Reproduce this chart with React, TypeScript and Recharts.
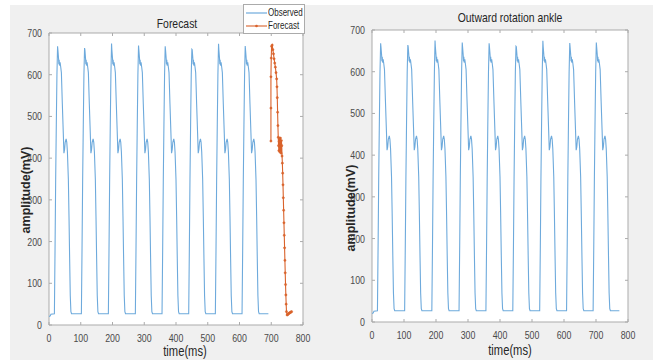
import React from 'react';
import { LineChart, Line, XAxis, YAxis, ReferenceArea } from 'recharts';

// onset (ms) of every burst and its peak amplitude (mV)
const cycleOnsets = [17, 102, 187, 272, 356, 440, 524, 608, 691];
const cyclePeaks = [668, 664, 675, 670, 668, 661, 674, 669, 670];

// shape of one burst: offset from onset (ms) -> amplitude (mV); index 5 is the peak
const burstOffsets = [0, 2, 4, 6, 8, 10, 11, 13, 14, 15, 16, 18, 20, 22, 23, 25, 28, 30, 32, 34, 37, 39, 41, 44, 46, 48, 50, 52, 54];
const burstValues = [27, 180, 348, 480, 600, 670, 660, 640, 625, 636, 622, 630, 618, 605, 580, 530, 460, 412, 420, 438, 446, 438, 415, 348, 260, 160, 70, 32, 27];
const PEAK_INDEX = 5;

// start and end of the recording
const leadTime = [0, 4, 6];
const leadValues = [20, 22, 26];
const tailTime = [773];
const tailValues = [27];

// forecast trace (orange, with markers)
const forecastTime = [699, 699, 699, 700, 701, 703, 705, 707, 709, 711, 713, 715, 717, 718, 719, 720, 721, 722, 723, 724, 725, 726, 727, 728, 729, 730, 731, 732, 733, 734, 735, 736, 737, 738, 739, 740, 741, 742, 743, 744, 745, 746, 747, 748, 750, 752, 754, 756, 758, 760, 762, 764];
const forecastValues = [441, 520, 595, 640, 668, 671, 660, 650, 638, 628, 618, 605, 590, 571, 545, 510, 478, 450, 430, 418, 440, 448, 415, 436, 448, 428, 412, 442, 430, 405, 388, 364, 336, 305, 275, 245, 215, 185, 155, 125, 97, 72, 50, 32, 24, 25, 27, 28, 29, 30, 31, 32];

const xTicks = [0, 100, 200, 300, 400, 500, 600, 700, 800];
const yTicks = [0, 100, 200, 300, 400, 500, 600, 700];
const LEFT_CUTOFF = 691;

type Pt = { t: number; v: number };

const observed: Pt[] = [];
leadTime.forEach((t, i) => observed.push({ t, v: leadValues[i] }));
cycleOnsets.forEach((onset, c) => {
  burstOffsets.forEach((off, i) => {
    observed.push({ t: onset + off, v: i === PEAK_INDEX ? cyclePeaks[c] : burstValues[i] });
  });
});
tailTime.forEach((t, i) => observed.push({ t, v: tailValues[i] }));

const observedLeft = observed.filter((p) => p.t <= LEFT_CUTOFF);
const forecast: Pt[] = forecastTime.map((t, i) => ({ t, v: forecastValues[i] }));

const BLUE = '#6eaadc';
const ORANGE = '#d9622b';
const BORDER = '#ababab';
const TICK_TEXT = '#4a4a4a';
const SANS = "'Liberation Sans', Arial, sans-serif";
const SQUEEZE = 0.8; // matlab export uses a narrow face
const X_MARGIN = 6;
const Y_MARGIN = 7;

const makeXTick = (plotTop: number) => (props: any) => {
  const { x, y, payload } = props;
  const axisY = y - X_MARGIN;
  return (
    <g>
      <line x1={x} x2={x} y1={axisY} y2={axisY - 3} stroke={BORDER} />
      <line x1={x} x2={x} y1={plotTop} y2={plotTop + 3} stroke={BORDER} />
      <text
        transform={`translate(${x} ${axisY + 17}) scale(${SQUEEZE} 1)`}
        textAnchor="middle"
        fontSize={11}
        fill={TICK_TEXT}
        fontFamily={SANS}
      >
        {payload.value}
      </text>
    </g>
  );
};

const makeYTick = (plotRight: number) => (props: any) => {
  const { x, y, payload } = props;
  const axisX = x + Y_MARGIN;
  return (
    <g>
      <line x1={axisX} x2={axisX + 3} y1={y} y2={y} stroke={BORDER} />
      <line x1={plotRight - 3} x2={plotRight} y1={y} y2={y} stroke={BORDER} />
      <text
        transform={`translate(${x} ${y + 4}) scale(${SQUEEZE} 1)`}
        textAnchor="end"
        fontSize={11}
        fill={TICK_TEXT}
        fontFamily={SANS}
      >
        {payload.value}
      </text>
    </g>
  );
};

const Panel = ({ left, margin, plotTop, plotRight, children }: any) => (
  <div style={{ position: 'absolute', left, top: 0 }}>
    <LineChart width={330} height={360} margin={margin}>
      <ReferenceArea x1={0} x2={800} y1={0} y2={700} fill="#fff" fillOpacity={1} stroke={BORDER} />
      <XAxis
        dataKey="t"
        type="number"
        domain={[0, 800]}
        ticks={xTicks}
        height={20}
        axisLine={false}
        tickLine={false}
        tickSize={0}
        tickMargin={X_MARGIN}
        tick={makeXTick(plotTop)}
        allowDataOverflow
      />
      <YAxis
        type="number"
        domain={[0, 700]}
        ticks={yTicks}
        width={30}
        axisLine={false}
        tickLine={false}
        tickSize={0}
        tickMargin={Y_MARGIN}
        tick={makeYTick(plotRight)}
        allowDataOverflow
      />
      {children}
    </LineChart>
  </div>
);

// centred, horizontally squeezed html text
const text = (cx: number, top: number, size: number, content: string) => (
  <div
    style={{
      position: 'absolute',
      left: cx - 100,
      top,
      width: 200,
      textAlign: 'center',
      whiteSpace: 'nowrap',
      fontFamily: SANS,
      fontSize: size,
      lineHeight: `${size}px`,
      color: '#262626',
      transform: `scaleX(${SQUEEZE})`,
    }}
  >
    {content}
  </div>
);

const yLabel = (cx: number, cy: number) => (
  <div
    style={{
      position: 'absolute',
      left: cx - 70,
      top: cy - 8,
      width: 140,
      height: 16,
      lineHeight: '16px',
      textAlign: 'center',
      transform: 'rotate(-90deg)',
      fontFamily: SANS,
      fontWeight: 700,
      fontSize: 12.5,
      color: '#262626',
    }}
  >
    amplitude(mV)
  </div>
);

export default function App() {
  return (
    <div style={{ position: 'absolute', left: 0, top: 0, width: 660, height: 360, background: '#fff', overflow: 'hidden' }}>
      <div style={{ position: 'absolute', left: 10, top: 5, width: 643, height: 355, background: '#f0f0f0' }} />

      <Panel left={0} margin={{ top: 33, right: 27, bottom: 15, left: 19 }} plotTop={33} plotRight={303}>
        <Line data={observedLeft} dataKey="v" stroke={BLUE} strokeWidth={1.1} dot={false} isAnimationActive={false} />
        <Line
          data={forecast}
          dataKey="v"
          stroke={ORANGE}
          strokeWidth={1.1}
          dot={{ r: 1.1, fill: ORANGE, stroke: ORANGE, strokeWidth: 0.5 }}
          isAnimationActive={false}
        />
      </Panel>

      <Panel left={330} margin={{ top: 30, right: 32, bottom: 18, left: 12 }} plotTop={30} plotRight={298}>
        <Line data={observed} dataKey="v" stroke={BLUE} strokeWidth={1.1} dot={false} isAnimationActive={false} />
      </Panel>

      {text(177, 17, 13, 'Forecast')}
      {text(510, 11, 13, 'Outward rotation ankle')}
      {text(185, 344, 14, 'time(ms)')}
      {text(510, 343, 14, 'time(ms)')}
      {yLabel(26, 190)}
      {yLabel(351, 208)}

      <div
        style={{
          position: 'absolute',
          left: 243,
          top: 4,
          width: 60,
          height: 28,
          background: '#fff',
          border: `1px solid ${BORDER}`,
          fontFamily: SANS,
          fontSize: 10,
          color: '#262626',
        }}
      >
        <div style={{ display: 'flex', alignItems: 'center', height: 13, marginTop: 1 }}>
          <svg width={24} height={10} style={{ flex: 'none' }}>
            <line x1={2} x2={23} y1={5} y2={5} stroke={BLUE} strokeWidth={1.2} />
          </svg>
          <span style={{ display: 'inline-block', transform: `scaleX(${SQUEEZE})`, transformOrigin: 'left center' }}>Observed</span>
        </div>
        <div style={{ display: 'flex', alignItems: 'center', height: 13 }}>
          <svg width={24} height={10} style={{ flex: 'none' }}>
            <line x1={2} x2={23} y1={5} y2={5} stroke={ORANGE} strokeWidth={1.1} />
            <circle cx={12.5} cy={5} r={1.3} fill={ORANGE} />
          </svg>
          <span style={{ display: 'inline-block', transform: `scaleX(${SQUEEZE})`, transformOrigin: 'left center' }}>Forecast</span>
        </div>
      </div>
    </div>
  );
}
